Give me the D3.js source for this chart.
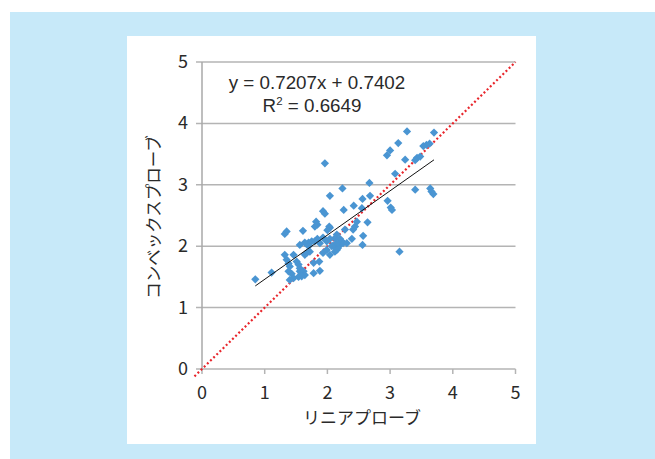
<!DOCTYPE html>
<html>
<head>
<meta charset="utf-8">
<script src="https://cdn.jsdelivr.net/npm/d3@7"></script>
<style>
  body { margin: 0; background: #fff; }
  text { font-family: "Noto Sans CJK JP", "Noto Sans", sans-serif; fill: #2a2a2a; }
  text.eq { font-family: "Liberation Sans", Arial, sans-serif; }
</style>
</head>
<body>
<div id="chart-container"></div>
<script>
// linear probe (x) vs convex probe (y)
const linearProbe = [
  3.27, 3.70, 3.13, 3.00, 2.95, 3.58, 3.53, 3.63, 3.24, 3.43, 3.48, 3.40, 3.08, 2.67, 2.24, 3.40,
  3.64, 3.66, 3.69, 2.68, 2.56, 2.96, 3.01, 3.03, 2.26, 2.42, 2.55, 2.47, 2.44, 2.41, 2.64, 2.57,
  2.28, 2.04, 2.39, 2.15, 2.12, 2.23, 2.20, 2.17, 2.25, 2.09, 2.12, 2.56, 3.15, 1.96, 2.04, 1.93,
  1.96, 1.82, 1.84, 1.80, 2.03, 1.35, 1.32, 1.61, 1.93, 1.84, 1.80, 1.75, 1.70, 1.64, 1.56, 1.88,
  1.99, 2.04, 2.20, 2.15, 2.31, 2.15, 1.93, 2.04, 1.70, 1.72, 1.67, 1.64, 1.46, 1.32, 1.35, 1.38,
  1.51, 1.54, 1.56, 1.56, 1.78, 1.87, 1.40, 1.38, 1.43, 1.62, 1.64, 1.59, 1.54, 1.78, 1.88, 1.11,
  0.85, 1.46, 1.40, 2.00, 1.99, 2.07
];
const convexProbe = [
  3.87, 3.85, 3.68, 3.56, 3.48, 3.65, 3.63, 3.67, 3.41, 3.44, 3.46, 3.40, 3.18, 3.03, 2.94, 2.92,
  2.94, 2.89, 2.85, 2.82, 2.77, 2.74, 2.63, 2.59, 2.59, 2.66, 2.62, 2.40, 2.32, 2.27, 2.39, 2.17,
  2.27, 2.30, 2.12, 2.19, 2.13, 2.08, 2.02, 1.97, 2.05, 2.01, 1.91, 2.02, 1.91, 3.35, 2.82, 2.57,
  2.53, 2.40, 2.35, 2.32, 2.32, 2.24, 2.20, 2.25, 2.14, 2.12, 2.08, 2.08, 2.06, 2.06, 2.02, 2.05,
  2.08, 2.12, 2.12, 2.05, 2.05, 1.94, 1.89, 1.86, 2.00, 1.91, 1.89, 1.86, 1.86, 1.86, 1.78, 1.72,
  1.75, 1.70, 1.64, 1.59, 1.73, 1.75, 1.67, 1.59, 1.55, 1.59, 1.53, 1.51, 1.50, 1.56, 1.60, 1.57,
  1.46, 1.48, 1.45, 2.26, 1.94, 2.00
];
const ticks = [0, 1, 2, 3, 4, 5];
const slope = 0.7207, intercept = 0.7402, r2 = "0.6649";

const data = linearProbe.map((x, i) => ({ x: x, y: convexProbe[i] }));

const svgWidth = 655, svgHeight = 459;

const svg = d3.select("#chart-container")
  .append("svg")
  .attr("width", svgWidth)
  .attr("height", svgHeight);

// frame: light blue band with white card
svg.append("rect").attr("x", 10).attr("y", 12).attr("width", 645).attr("height", 447).attr("fill", "#c7e9f9");
svg.append("rect").attr("x", 127).attr("y", 36).attr("width", 409).attr("height", 408).attr("fill", "#fff");

const scaleX = d3.scaleLinear().domain([0, 5]).range([202, 515.5]);
const scaleY = d3.scaleLinear().domain([0, 5]).range([369, 62]);

// horizontal gridlines (with short outer ticks)
svg.append("g")
  .selectAll("line")
  .data(ticks)
  .enter()
  .append("line")
  .attr("x1", scaleX(0) - 6)
  .attr("x2", scaleX(5))
  .attr("y1", d => scaleY(d))
  .attr("y2", d => scaleY(d))
  .attr("stroke", "#b4b4b4")
  .attr("stroke-width", 1.5);

// y axis line
svg.append("line")
  .attr("x1", scaleX(0)).attr("x2", scaleX(0))
  .attr("y1", scaleY(5)).attr("y2", scaleY(0))
  .attr("stroke", "#a8a8a8").attr("stroke-width", 1.5);

// x ticks
svg.append("g")
  .selectAll("line")
  .data(ticks)
  .enter()
  .append("line")
  .attr("x1", d => scaleX(d)).attr("x2", d => scaleX(d))
  .attr("y1", scaleY(0)).attr("y2", scaleY(0) + 5)
  .attr("stroke", "#b4b4b4").attr("stroke-width", 1.5);

// tick labels
svg.append("g")
  .selectAll("text")
  .data(ticks)
  .enter()
  .append("text")
  .attr("x", 188)
  .attr("y", d => scaleY(d) + 6)
  .attr("text-anchor", "end")
  .attr("font-size", "18px")
  .text(d => d);

svg.append("g")
  .selectAll("text")
  .data(ticks)
  .enter()
  .append("text")
  .attr("x", d => scaleX(d))
  .attr("y", 399)
  .attr("text-anchor", "middle")
  .attr("font-size", "18px")
  .text(d => d);

// axis titles
svg.append("text")
  .attr("x", 362)
  .attr("y", 424)
  .attr("text-anchor", "middle")
  .attr("font-size", "17px")
  .text("リニアプローブ");

svg.append("text")
  .attr("transform", "translate(160,217) rotate(-90)")
  .attr("text-anchor", "middle")
  .attr("font-size", "16.5px")
  .text("コンベックスプローブ");

// identity line y = x (red dotted)
svg.append("line")
  .attr("x1", scaleX(-0.12)).attr("y1", scaleY(-0.12))
  .attr("x2", scaleX(5)).attr("y2", scaleY(5))
  .attr("stroke", "#e8262c")
  .attr("stroke-width", 2.2)
  .attr("stroke-dasharray", "2,2.4");

// points
const diamond = d3.symbol().type(d3.symbolSquare).size(34);
svg.append("g")
  .selectAll("path")
  .data(data)
  .enter()
  .append("path")
  .attr("d", diamond)
  .attr("transform", d => `translate(${scaleX(d.x)},${scaleY(d.y)}) rotate(45)`)
  .attr("fill", "#4a95d2");

// linear trend line
const xMin = d3.min(linearProbe), xMax = d3.max(linearProbe);
svg.append("line")
  .attr("x1", scaleX(xMin)).attr("y1", scaleY(slope * xMin + intercept))
  .attr("x2", scaleX(xMax)).attr("y2", scaleY(slope * xMax + intercept))
  .attr("stroke", "#111")
  .attr("stroke-width", 1);

// equation label
svg.append("text")
  .attr("class", "eq")
  .attr("x", 317)
  .attr("y", 89)
  .attr("text-anchor", "middle")
  .attr("font-size", "18.8px")
  .text(`y = ${slope}x + ${intercept}`);

const r2Label = svg.append("text")
  .attr("class", "eq")
  .attr("x", 312)
  .attr("y", 112)
  .attr("text-anchor", "middle")
  .attr("font-size", "18.8px");
r2Label.append("tspan").text("R");
r2Label.append("tspan").attr("font-size", "11.5px").attr("dy", -7).text("2");
r2Label.append("tspan").attr("dy", 7).text(` = ${r2}`);
</script>
</body>
</html>
